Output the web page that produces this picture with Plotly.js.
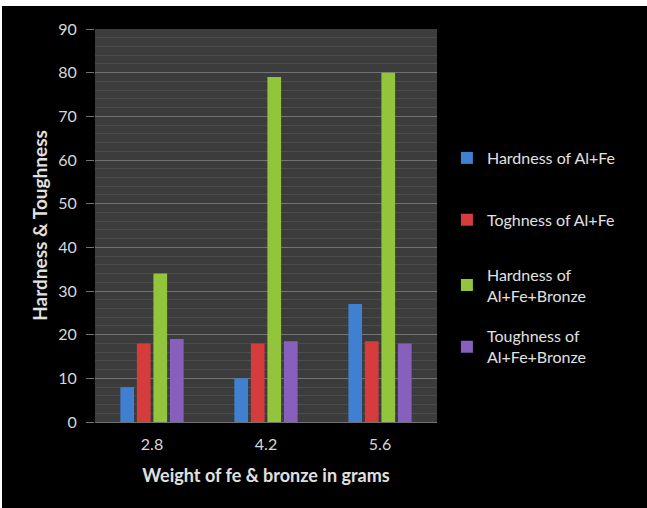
<!DOCTYPE html>
<html>
<head>
<meta charset="utf-8">
<script src="https://cdn.plot.ly/plotly-3.0.1.min.js"></script>
<style>
  html, body { margin: 0; padding: 0; background: #ffffff; width: 647px; height: 508px; overflow: hidden; }
  #chart { position: absolute; left: 2px; top: 6px; width: 645px; height: 502px; }
</style>
</head>
<body>
<div id="chart"></div>
<script>
// Weight of Fe & bronze added (grams)
const weights = ['2.8', '4.2', '5.6'];

// Measured values per series
const hardnessAlFe = [8, 10, 27];
const toughnessAlFe = [18, 18, 18.5];
const hardnessAlFeBronze = [34, 79, 80];
const toughnessAlFeBronze = [19, 18.5, 18];

const seriesNames = [
  'Hardness of Al+Fe',
  'Toghness of Al+Fe',
  'Hardness of<br>Al+Fe+Bronze',
  'Toughness of<br>Al+Fe+Bronze'
];
const seriesColors = ['#4080d0', '#d63c3c', '#92c43c', '#8660bc'];
const seriesValues = [hardnessAlFe, toughnessAlFe, hardnessAlFeBronze, toughnessAlFeBronze];
// single-line entries sit in the first legend box, two-line entries in the second
const legendIds = ['legend', 'legend', 'legend2', 'legend2'];

const traces = seriesValues.map((vals, i) => ({
  type: 'bar',
  x: weights,
  y: vals,
  name: seriesNames[i],
  legend: legendIds[i],
  legendgroup: 'g' + i,
  marker: { color: seriesColors[i], line: { width: 0 } },
  hoverinfo: 'x+y+name'
}));

const font = 'Lato, "Open Sans", sans-serif';

const legendBase = {
  x: 1.029,
  xanchor: 'left',
  yanchor: 'top',
  bgcolor: 'rgba(0,0,0,0)',
  font: { family: font, size: 16, color: '#e0e0e0' },
  traceorder: 'grouped',
  itemwidth: 30
};

const layout = {
  width: 645,
  height: 502,
  paper_bgcolor: '#000000',
  plot_bgcolor: '#3c3c3c',
  margin: { l: 93, r: 210, t: 23, b: 86 },
  font: { family: font, color: '#d8d8d8', size: 16 },
  barmode: 'group',
  bargap: 0.42,
  bargroupgap: 0.17,
  showlegend: true,
  legend: Object.assign({}, legendBase, { y: 0.715, tracegroupgap: 38 }),
  legend2: Object.assign({}, legendBase, { y: 0.418, tracegroupgap: 17 }),
  xaxis: {
    type: 'category',
    showgrid: false,
    zeroline: false,
    showline: false,
    ticks: 'outside',
    ticklen: 8,
    tickcolor: 'rgba(0,0,0,0)',
    tickfont: { family: font, size: 16, color: '#d8d8d8' },
    title: {
      text: '<b>Weight of fe &amp; bronze in grams</b>',
      font: { family: font, size: 18, color: '#e0e0e0' },
      standoff: 17
    }
  },
  yaxis: {
    range: [0, 90],
    dtick: 10,
    showgrid: true,
    gridcolor: '#737373',
    gridwidth: 1,
    zeroline: true,
    zerolinecolor: '#737373',
    showline: false,
    ticks: 'outside',
    ticklen: 8,
    tickcolor: '#737373',
    ticklabelstandoff: 6,
    tickfont: { family: font, size: 16, color: '#d8d8d8' },
    minor: { dtick: 2, showgrid: true, gridcolor: '#4b4b4b', gridwidth: 1 },
    title: {
      text: '<b>Hardness &amp; Toughness</b>',
      font: { family: font, size: 19, color: '#e0e0e0' },
      standoff: 5
    }
  }
};

Plotly.newPlot('chart', traces, layout, { displayModeBar: false, staticPlot: true });
</script>
</body>
</html>
